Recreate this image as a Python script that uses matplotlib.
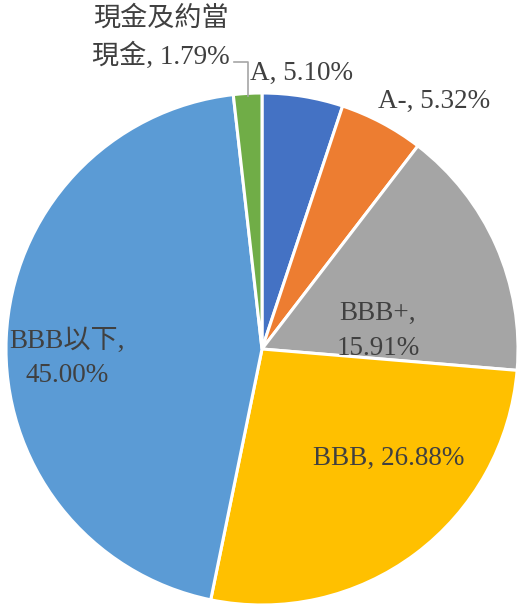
import numpy as np
import matplotlib
matplotlib.use('Agg')
import matplotlib.pyplot as plt

plt.rcParams['font.family'] = ['Liberation Serif', 'Noto Sans CJK TC']

labels = ['A', 'A-', 'BBB+', 'BBB', 'BBB以下', '現金及約當現金']
values = [5.10, 5.32, 15.91, 26.88, 45.00, 1.79]
colors = ['#4472C4', '#ED7D31', '#A5A5A5', '#FFC000', '#5B9BD5', '#70AD47']
texts = ['A, 5.10%', 'A-, 5.32%', 'BBB+,\n15.91%', 'BBB, 26.88%',
         'BBB以下,\n45.00%', '現金及約當\n現金, 1.79%']
# label centres in pixels (x from left, y from top)
label_pos = [(302, 73), (434, 101), (378, 331), (389, 458), (67, 358), (161, 38)]

W, H = 518, 606
fig = plt.figure(figsize=(W / 100, H / 100), dpi=100)
ax = fig.add_axes([0, 0, 1, 1])

cx, cy, r = 262, H - 349, 256
wedges, _ = ax.pie(values, colors=colors, startangle=90, counterclock=False,
                   center=(cx, cy), radius=r, frame=True,
                   wedgeprops=dict(edgecolor='white', linewidth=2.2))
ax.set_xlim(0, W)
ax.set_ylim(0, H)
ax.set_aspect('equal')
ax.axis('off')

for t, (px, py) in zip(texts, label_pos):
    ax.text(px, H - py, t, ha='center', va='center', fontsize=19.5,
            color='#404040', linespacing=1.5)

# leader line for the small cash slice
w = wedges[-1]
mid = np.deg2rad((w.theta1 + w.theta2) / 2)
ex, ey = cx + r * 0.99 * np.cos(mid), cy + r * 0.99 * np.sin(mid)
ax.plot([234, ex, ex], [H - 62, H - 62, ey], color='#A6A6A6', lw=1.2)

fig.savefig('out.png', dpi=100)
